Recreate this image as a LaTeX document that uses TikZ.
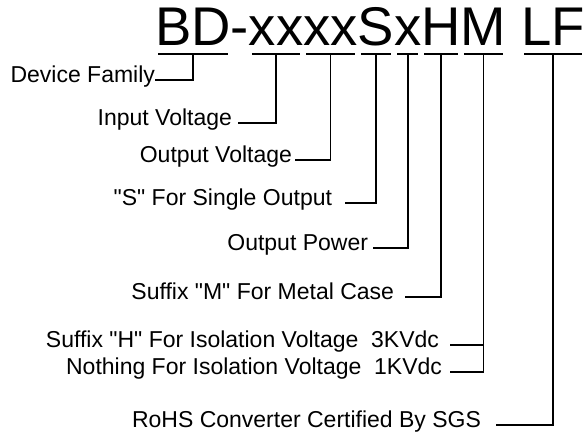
\documentclass[tikz,border=0pt]{standalone}
\usepackage{fontspec}
\setmainfont{Liberation Sans}[Ligatures=TeXOff]
\usetikzlibrary{calc}
\begin{document}
\begin{tikzpicture}[x=1pt,y=-1pt,
  part/.style={inner sep=0pt, outer sep=0pt, anchor=base west, font=\fontsize{54.5}{60}\selectfont},
  lab/.style={inner sep=0pt, outer sep=0pt, anchor=mid east, font=\fontsize{23}{26}\selectfont},
  uline/.style={line width=1.4pt},
  conn/.style={line width=1.4pt}]
\useasboundingbox (0,0) rectangle (583,440);
% title parts
\node[part] (BD) at (155,45) {BD};
\node[part] (dash) at (BD.base east) {-};
\node[part] (x1) at (dash.base east) {xx};
\node[part] (x2) at (x1.base east) {xx};
\node[part] (S) at (x2.base east) {S};
\node[part] (x3) at (S.base east) {x};
\node[part] (H) at (x3.base east) {H};
\node[part] (M) at (H.base east) {M};
\node[part] (LF) at ($(M.base east)+(15,0)$) {LF};
\foreach \p in {BD,x1,x2,S,x3,H,M,LF}{
  \draw[uline] ($(\p.base west)+(3,9)$) -- ($(\p.base east)+(-3,9)$);
  \coordinate (u\p) at ($(\p.base)+(0,9)$);
}
% labels
\node[lab] (fam) at (155,80) {Device Family};
\node[lab] (inp) at (232,123) {Input Voltage};
\node[lab] (outv) at (292,160) {Output Voltage};
\node[lab] (sgl) at (332,203) {"S" For Single Output};
\node[lab] (pow) at (368,248) {Output Power};
\node[lab] (met) at (394,297) {Suffix "M" For Metal Case};
\node[lab] (iso3) at (439,345) {Suffix "H" For Isolation Voltage\ \ 3KVdc};
\node[lab] (iso1) at (442,372) {Nothing For Isolation Voltage\ \ 1KVdc};
\node[lab] (rohs) at (481,425) {RoHS Converter Certified By SGS};
% connectors
\draw[conn] (fam.mid east) -| (uBD);
\draw[conn,shorten <=6pt] (inp.mid east) -| (ux1);
\draw[conn,shorten <=3pt] (outv.mid east) -| (ux2);
\draw[conn,shorten <=13pt] (sgl.mid east) -| (uS);
\draw[conn,shorten <=5pt] (pow.mid east) -| (ux3);
\draw[conn,shorten <=11pt] (met.mid east) -| (uH);
\draw[conn,shorten <=11pt] (iso3.mid east) -| (uM);
\draw[conn,shorten <=8pt] (iso1.mid east) -| (uM);
\draw[conn,shorten <=15pt] (rohs.mid east) -| (uLF);
\end{tikzpicture}
\end{document}
